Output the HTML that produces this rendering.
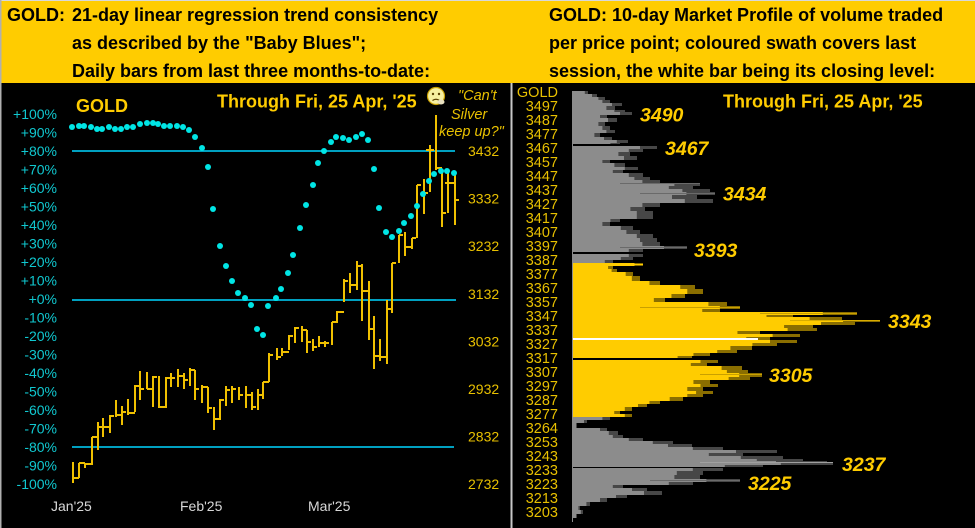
<!DOCTYPE html>
<html><head><meta charset="utf-8"><style>
html,body{margin:0;padding:0;background:#000;}
svg{display:block;}
text{font-family:"Liberation Sans",Arial,sans-serif;}
</style></head><body>
<svg width="975" height="528" viewBox="0 0 975 528" xmlns="http://www.w3.org/2000/svg">
<defs>
<path id="pgrey" d="
M572 91H588V94H597V97H605V100H610V103H622V106H615V110H625V112H632V115H607V118H617V122H605V126H610V130H615V133H600V137H612V140H628V143H620V144H572Z
M572 146H657V149H643V152H630V156H637V160H610V163H625V167H638V170H623V173H643V177H650V180H660V183H700V186H693V189H710V192H715V195H697V199H713V203H660V207H645V211H653V215H653V219H620V222H610V226H633V230H640V234H653V238H657V242H660V246H687V249H643V252H572Z
M572 254H643V257H633V260H613V263H572Z
M572 417H610V420H587V423H577V428H607V431H618V435H623V438H643V441H673V444H692V447H723V450H777V453H743V456H783V459H803V461H827V463H833V465H763V467H572Z
M572 468H723V471H703V475H700V479H740V482H693V485H623V488H647V491H662V495H627V498H607V502H590V506H580V510H583V514H577V518H573V521H572Z
"/>
<path id="pyel" d="
M572 263H643V266H613V269H617V272H633V276H640V281H660V285H695V289H703V294H685V298H665V302H727V306H740V309H720V312H857V315H793V317H842V320H880V322H855V325H813V328H817V331H760V334H800V337H770V340H797V343H777V346H752V350H737V353H710V356H692V358H572Z
M572 360H718V363H707V366H742V370H748V373H762V377H750V380H710V384H718V387H703V391H713V394H703V397H683V401H660V404H647V407H632V411H620V414H632V417H572Z
"/>
</defs>
<rect x="0" y="0" width="975" height="528" fill="#000"/>
<rect x="0" y="0" width="975" height="83" fill="#FFCC00"/>
<line x1="0" y1="0.5" x2="975" y2="0.5" stroke="#d8d8d8" stroke-width="1"/>
<line x1="0.75" y1="0" x2="0.75" y2="528" stroke="#b0b0b0" stroke-width="1.5"/>
<line x1="511.5" y1="83" x2="511.5" y2="528" stroke="#c8c8c8" stroke-width="2"/>

<!-- header text -->
<g font-weight="bold" font-size="18" fill="#000">
<text x="7" y="21">GOLD:</text>
<text x="72" y="21">21-day linear regression trend consistency</text>
<text x="72" y="49">as described by the "Baby Blues";</text>
<text x="72" y="77">Daily bars from last three months-to-date:</text>
<text x="549" y="21">GOLD:</text>
<text x="612" y="21">10-day Market Profile of volume traded</text>
<text x="549" y="49">per price point; coloured swath covers last</text>
<text x="549" y="77">session, the white bar being its closing level:</text>
</g>

<!-- LEFT PANEL -->
<g font-weight="bold" font-size="18" fill="#FFCC00">
<text x="76" y="112">GOLD</text>
<text x="217" y="107.5">Through Fri, 25 Apr, '25</text>
</g>
<g>
<circle cx="436" cy="96" r="8.5" fill="#f6efa0" stroke="#c9a000" stroke-width="1.2"/>
<circle cx="433" cy="94" r="1.2" fill="#5a4000"/>
<circle cx="439" cy="94" r="1.2" fill="#5a4000"/>
<path d="M432.5 100.5 Q436 98 439.5 100.5" stroke="#5a4000" stroke-width="1.2" fill="none"/>
<ellipse cx="441" cy="102" rx="3.5" ry="2.5" fill="#e8e0c0"/>
</g>
<g font-style="italic" font-size="14.5" fill="#e8c000">
<text x="458" y="100">"Can't</text>
<text x="451" y="119">Silver</text>
<text x="439" y="136">keep up?"</text>
</g>

<!-- percent labels -->
<g font-size="14" fill="#10c8d0" text-anchor="end">
<text x="57" y="119">+100%</text>
<text x="57" y="137.5">+90%</text>
<text x="57" y="156">+80%</text>
<text x="57" y="174.5">+70%</text>
<text x="57" y="193">+60%</text>
<text x="57" y="211.5">+50%</text>
<text x="57" y="230">+40%</text>
<text x="57" y="248.5">+30%</text>
<text x="57" y="267">+20%</text>
<text x="57" y="285.5">+10%</text>
<text x="57" y="304">+0%</text>
<text x="57" y="322.5">-10%</text>
<text x="57" y="341">-20%</text>
<text x="57" y="359.5">-30%</text>
<text x="57" y="378">-40%</text>
<text x="57" y="396.5">-50%</text>
<text x="57" y="415">-60%</text>
<text x="57" y="433.5">-70%</text>
<text x="57" y="452">-80%</text>
<text x="57" y="470.5">-90%</text>
<text x="57" y="489">-100%</text>
</g>

<!-- price labels -->
<g font-size="14" fill="#e8c000">
<text x="468" y="156">3432</text>
<text x="468" y="203.6">3332</text>
<text x="468" y="251.2">3232</text>
<text x="468" y="298.8">3132</text>
<text x="468" y="346.4">3032</text>
<text x="468" y="394">2932</text>
<text x="468" y="441.6">2832</text>
<text x="468" y="489.2">2732</text>
</g>

<!-- x labels -->
<g font-size="14" fill="#d8d8d8">
<text x="51" y="511">Jan'25</text>
<text x="180" y="511">Feb'25</text>
<text x="308" y="511">Mar'25</text>
</g>

<!-- reference lines -->
<g stroke="#00a0c0" stroke-width="2">
<line x1="72" y1="151" x2="455" y2="151"/>
<line x1="72" y1="300" x2="456" y2="300"/>
<line x1="72" y1="447" x2="454" y2="447"/>
</g>

<!-- bars -->
<path fill="none" stroke="#f0c000" stroke-width="2" d="
M73 462V483M73 478H77
M79 463V478M76 478H79M79 463H83
M85 463V468M82 463H85M85 464H89
M92 437V465M89 464H92M92 437H96
M98 422V450M95 437H98M98 427H102
M103 418V437M103 427H107
M110 415V433M107 427H110M110 416H114
M116 400V417M116 415H120
M122 406V425M119 415H122M122 412H126
M128 399V415M128 413H132
M135 385V412M132 413H135M135 386H139
M140 371V400M140 389H144
M147 372V389M147 389H151
M153 376V407M150 389H153M153 377H157
M159 376V408M159 407H163
M166 377V408M163 407H166M166 378H170
M171 373V387M171 378H175
M178 369V387M178 376H182
M184 373V389M181 376H184M184 380H188
M190 368V386M190 370H194
M195 370V400M192 370H195M195 389H199
M202 385V403M202 387H206
M208 387V413M205 387H208M208 408H212
M214 407V430M214 419H218
M220 399V420M217 419H220M220 400H224
M226 386V406M226 390H230
M232 386V403M232 389H236
M239 387V400M239 395H243
M246 386V408M246 395H250
M252 392V410M249 395H252M252 407H256
M258 389V410M258 395H262
M263 382V399M263 382H267
M269 353V382M266 382H269M269 355H273
M277 348V360M277 357H281
M282 348V356M282 352H286
M289 335V350M286 352H289M289 336H293
M295 327V343M295 328H299
M302 326V342M302 330H306
M307 330V353M304 330H307M307 342H311
M313 339V351M313 347H317
M319 336V347M319 343H323
M325 341V347M322 343H325M325 343H329
M332 322V345M332 322H336
M337 311V323M337 312H341
M344 279V302M341 312H344M344 281H348
M350 273V293M350 285H354
M357 261V290M354 285H357M357 266H361
M362 264V321M362 291H366
M369 281V340M366 291H369M369 329H373
M374 316V369M374 356H378
M380 339V361M377 356H380M380 357H384
M387 300V364M384 357H387M387 309H391
M392 263V313M392 263H396
M399 235V263M399 235H403
M405 232V256M405 247H409
M412 238V249M409 247H412M412 238H416
M417 185V238M417 185H421
M424 179V214M424 193H428
M430 145V192M426 150H430M430 150H434
M436 115V170M436 168H440
M442 172V227M439 168H442M442 213H446
M448 173V213M445 183H448M448 183H452
M455 172V225M452 183H455M455 200H459
"/>

<!-- dots -->
<g fill="#00e5e5">
<circle cx="72" cy="127" r="3"/><circle cx="79" cy="126" r="3"/><circle cx="84" cy="126" r="3"/><circle cx="91" cy="127" r="3"/><circle cx="97" cy="129" r="3"/><circle cx="102" cy="129" r="3"/><circle cx="109" cy="127" r="3"/><circle cx="115" cy="129" r="3"/><circle cx="121" cy="129" r="3"/><circle cx="127" cy="127" r="3"/><circle cx="133" cy="127" r="3"/><circle cx="140" cy="124" r="3"/><circle cx="147" cy="123" r="3"/><circle cx="153" cy="123" r="3"/><circle cx="158" cy="124" r="3"/><circle cx="164" cy="126" r="3"/><circle cx="170" cy="126" r="3"/><circle cx="177" cy="126" r="3"/><circle cx="183" cy="127" r="3"/><circle cx="189" cy="130" r="3"/><circle cx="195" cy="137" r="3"/><circle cx="202" cy="148" r="3"/><circle cx="208" cy="167" r="3"/><circle cx="213" cy="209" r="3"/><circle cx="220" cy="246" r="3"/><circle cx="226" cy="266" r="3"/><circle cx="232" cy="281" r="3"/><circle cx="238" cy="293" r="3"/><circle cx="245" cy="298" r="3"/><circle cx="251" cy="305" r="3"/><circle cx="257" cy="329" r="3"/><circle cx="263" cy="335" r="3"/><circle cx="268" cy="306" r="3"/><circle cx="276" cy="298" r="3"/><circle cx="281" cy="289" r="3"/><circle cx="288" cy="273" r="3"/><circle cx="293" cy="255" r="3"/><circle cx="300" cy="228" r="3"/><circle cx="306" cy="205" r="3"/><circle cx="313" cy="185" r="3"/><circle cx="318" cy="163" r="3"/><circle cx="324" cy="151" r="3"/><circle cx="331" cy="142" r="3"/><circle cx="336" cy="137" r="3"/><circle cx="343" cy="138" r="3"/><circle cx="349" cy="140" r="3"/><circle cx="356" cy="137" r="3"/><circle cx="362" cy="134" r="3"/><circle cx="368" cy="140" r="3"/><circle cx="374" cy="169" r="3"/><circle cx="379" cy="208" r="3"/><circle cx="386" cy="232" r="3"/><circle cx="392" cy="237" r="3"/><circle cx="399" cy="231" r="3"/><circle cx="404" cy="223" r="3"/><circle cx="411" cy="216" r="3"/><circle cx="417" cy="206" r="3"/><circle cx="423" cy="194" r="3"/><circle cx="429" cy="181" r="3"/><circle cx="434" cy="174" r="3"/><circle cx="441" cy="171" r="3"/><circle cx="447" cy="171" r="3"/><circle cx="454" cy="173" r="3"/>
</g>

<!-- RIGHT PANEL -->
<text x="723" y="107.5" font-weight="bold" font-size="18" fill="#FFCC00">Through Fri, 25 Apr, '25</text>

<g font-size="14.5" fill="#e8c000" text-anchor="end">
<text x="558" y="97">GOLD</text>
<text x="558" y="111">3497</text>
<text x="558" y="125">3487</text>
<text x="558" y="139">3477</text>
<text x="558" y="153">3467</text>
<text x="558" y="167">3457</text>
<text x="558" y="181">3447</text>
<text x="558" y="195">3437</text>
<text x="558" y="209">3427</text>
<text x="558" y="223">3417</text>
<text x="558" y="237">3407</text>
<text x="558" y="251">3397</text>
<text x="558" y="265">3387</text>
<text x="558" y="279">3377</text>
<text x="558" y="293">3367</text>
<text x="558" y="307">3357</text>
<text x="558" y="321">3347</text>
<text x="558" y="335">3337</text>
<text x="558" y="349">3327</text>
<text x="558" y="363">3317</text>
<text x="558" y="377">3307</text>
<text x="558" y="391">3297</text>
<text x="558" y="405">3287</text>
<text x="558" y="419">3277</text>
<text x="558" y="433">3264</text>
<text x="558" y="447">3253</text>
<text x="558" y="461">3243</text>
<text x="558" y="475">3233</text>
<text x="558" y="489">3223</text>
<text x="558" y="503">3213</text>
<text x="558" y="517">3203</text>
</g>

<!-- profile: dark tails at full extent, body at reduced extent -->
<use href="#pgrey" fill="#474747"/>
<use href="#pgrey" fill="#8c8c8c" transform="translate(572,0) scale(0.8,1) translate(-572,0)"/>
<use href="#pyel" fill="#8a6e00"/>
<use href="#pyel" fill="#FFCC00" transform="translate(572,0) scale(0.88,1) translate(-572,0)"/>
<!-- some brighter tails -->
<g stroke-width="1">
<line x1="600" y1="264.5" x2="643" y2="264.5" stroke="#FFCC00"/>
<line x1="640" y1="307.5" x2="740" y2="307.5" stroke="#c9a000"/>
<line x1="760" y1="313.5" x2="857" y2="313.5" stroke="#c9a000"/>
<line x1="790" y1="320.5" x2="880" y2="320.5" stroke="#d8ac00"/>
<line x1="700" y1="374.5" x2="762" y2="374.5" stroke="#c9a000"/>
<line x1="620" y1="183.5" x2="700" y2="183.5" stroke="#6a6a6a"/>
<line x1="640" y1="193.5" x2="715" y2="193.5" stroke="#6a6a6a"/>
<line x1="620" y1="247.5" x2="687" y2="247.5" stroke="#6a6a6a"/>
<line x1="700" y1="462.5" x2="833" y2="462.5" stroke="#a0a0a0"/>
<line x1="650" y1="480.5" x2="740" y2="480.5" stroke="#6a6a6a"/>
</g>
<rect x="572" y="338" width="186" height="2" fill="#ffffff"/>
<line x1="572.5" y1="91" x2="572.5" y2="522" stroke="#8c8c8c" stroke-width="1"/>

<!-- profile labels -->
<g font-weight="bold" font-style="italic" font-size="19.5" fill="#FFCC00">
<text x="640" y="121.5">3490</text>
<text x="665" y="155">3467</text>
<text x="723" y="200.5">3434</text>
<text x="694" y="257">3393</text>
<text x="888" y="328">3343</text>
<text x="769" y="382">3305</text>
<text x="842" y="471">3237</text>
<text x="748" y="490">3225</text>
</g>
</svg>
</body></html>
